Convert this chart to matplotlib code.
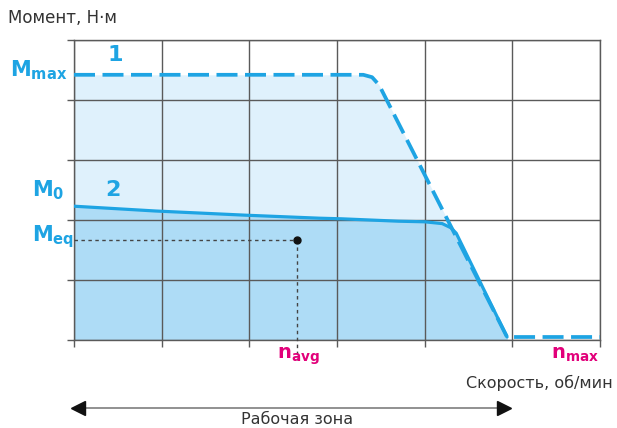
import matplotlib.pyplot as plt
import numpy as np

# curve 1 (max torque, dashed) and curve 2 (continuous torque)
speed_1 = [0, 3.3, 3.40, 3.48, 4.94, 6.0]
torque_1 = [4.42, 4.42, 4.38, 4.25, 0.05, 0.05]

speed_2 = [0, 0.93, 1.96, 2.8, 3.05, 3.7, 4.0, 4.2, 4.3, 4.36, 4.94]
torque_2 = [2.23, 2.15, 2.08, 2.03, 2.02, 1.98, 1.97, 1.94, 1.87, 1.78, 0.05]

# equivalent torque / average speed point
n_avg = 2.54
m_eq = 1.67

LINE = '#1ea4e3'
LIGHT = '#dff1fc'
DARK = '#aedcf6'
MAGENTA = '#e2007a'
GRID = '#5a5a5a'
TXT_FONT = ['DejaVu Sans']

fig = plt.figure(figsize=(6.17, 4.28), dpi=100)
ax = fig.add_axes([74 / 617, 1 - 340 / 428, 526 / 617, 300 / 428])
ax.set_xlim(0, 6)
ax.set_ylim(0, 5)

# fills
ax.fill_between(speed_1[:-1], torque_1[:-1], 0, color=LIGHT, lw=0, zorder=1)
ax.fill_between(speed_2, torque_2, 0, color=DARK, lw=0, zorder=1.5)

# grid
ax.set_xticks(range(7))
ax.set_yticks(range(6))
ax.set_xticklabels([])
ax.set_yticklabels([])
ax.tick_params(length=5, color=GRID, width=1)
ax.grid(True, color=GRID, lw=1)
ax.set_axisbelow(False)
for s in ax.spines.values():
    s.set_color(GRID)
    s.set_linewidth(1)
    s.set_zorder(2)
for gl in ax.get_xgridlines() + ax.get_ygridlines():
    gl.set_zorder(2)

# curves
ax.plot(speed_2, torque_2, color=LINE, lw=2.3, zorder=3, solid_capstyle='round')
l1, = ax.plot(speed_1, torque_1, color=LINE, lw=2.7, zorder=4, clip_on=False)
l1.set_dashes((5.6, 2.0))

# Meq guide lines
ax.plot([0, n_avg], [m_eq, m_eq], color='#444444', lw=1, ls=(0, (2.5, 2.5)), zorder=3)
ax.plot([n_avg, n_avg], [m_eq, -0.33], color='#444444', lw=1, ls=(0, (2.5, 2.5)),
        zorder=3, clip_on=False)
ax.plot([n_avg], [m_eq], 'o', color='#111111', ms=5, zorder=5)

# curve numbers
ax.text(0.47, 4.75, '1', color=LINE, fontsize=16, fontweight='bold', ha='center', va='center')
ax.text(0.44, 2.5, '2', color=LINE, fontsize=16, fontweight='bold', ha='center', va='center')

# torque labels
ytr = ax.get_yaxis_transform()
ax.text(-64 / 526, 4.5, r'$\mathbf{M_{max}}$', color=LINE, fontsize=15, ha='left',
        va='center', transform=ytr)
ax.text(-42 / 526, 2.5, r'$\mathbf{M_0}$', color=LINE, fontsize=15, ha='left',
        va='center', transform=ytr)
ax.text(-42 / 526, 1.72, r'$\mathbf{M_{eq}}$', color=LINE, fontsize=15, ha='left',
        va='center', transform=ytr)

# speed labels
xtr = ax.get_xaxis_transform()
ax.text(n_avg + 0.02, -0.055, r'$\mathbf{n_{avg}}$', color=MAGENTA, fontsize=14,
        ha='center', va='center', transform=xtr)
ax.text(5.71, -0.05, r'$\mathbf{n_{max}}$', color=MAGENTA, fontsize=14,
        ha='center', va='center', transform=xtr)

# axis titles
fig.text(8 / 617, 1 - 18 / 428, 'Момент, Н·м', fontsize=12, color='#333333',
         ha='left', va='center', family=TXT_FONT)
ax.text(6.15, -0.143, 'Скорость, об/мин', fontsize=11.5, color='#333333',
        ha='right', va='center', transform=xtr, family=TXT_FONT)

# working zone arrow
zone = [0.05, 4.91]
ax.plot(zone, [-0.227, -0.227], color='#888888', lw=1.3, transform=xtr, clip_on=False)
ax.plot([zone[0]], [-0.227], marker='<', color='#111111', ms=10, transform=xtr, clip_on=False)
ax.plot([zone[1]], [-0.227], marker='>', color='#111111', ms=10, transform=xtr, clip_on=False)
ax.text(2.55, -0.265, 'Рабочая зона', fontsize=11.5, color='#333333', ha='center',
        va='center', transform=xtr, family=TXT_FONT)

fig.savefig('out.png', dpi=100)
